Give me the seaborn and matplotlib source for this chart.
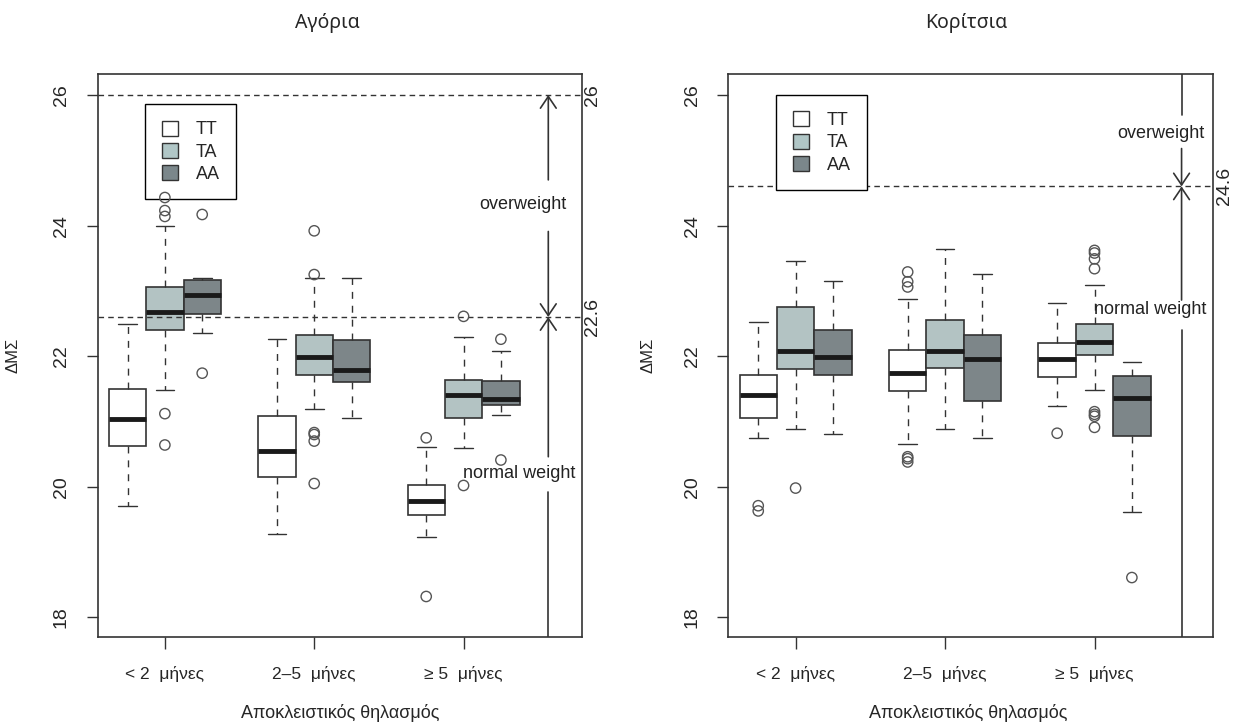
import numpy as np
import pandas as pd
import seaborn as sns
import matplotlib.pyplot as plt
from matplotlib.patches import Patch

genotypes = ["TT", "TA", "AA"]
groups = ["< 2  μήνες", "2–5  μήνες", "≥ 5  μήνες"]
group_pos = [2, 6, 10]
geno_offset = [-1, 0, 1]

# each box: whisker low, Q1, median, Q3, whisker high (one row per group)
boys_tt = [[19.70, 20.63, 21.04, 21.49, 22.49],
           [19.28, 20.15, 20.55, 21.08, 22.27],
           [19.23, 19.57, 19.78, 20.02, 20.61]]
boys_ta = [[21.48, 22.40, 22.68, 23.06, 24.00],
           [21.19, 21.71, 21.99, 22.32, 23.20],
           [20.60, 21.05, 21.40, 21.64, 22.30]]
boys_aa = [[22.35, 22.65, 22.93, 23.17, 23.20],
           [21.05, 21.60, 21.79, 22.25, 23.20],
           [21.10, 21.26, 21.34, 21.62, 22.08]]
boys_tt_out = [[], [], [20.75, 18.32]]
boys_ta_out = [[24.43, 24.23, 24.14, 21.12, 20.64],
               [23.92, 23.25, 20.83, 20.80, 20.70, 20.05],
               [22.61, 20.02]]
boys_aa_out = [[24.17, 21.74], [], [22.26, 20.41]]

girls_tt = [[20.74, 21.05, 21.40, 21.71, 22.52],
            [20.65, 21.46, 21.74, 22.09, 22.88],
            [21.24, 21.68, 21.96, 22.20, 22.82]]
girls_ta = [[20.89, 21.80, 22.08, 22.76, 23.46],
            [20.89, 21.82, 22.08, 22.55, 23.64],
            [21.48, 22.02, 22.21, 22.50, 23.09]]
girls_aa = [[20.81, 21.71, 21.98, 22.40, 23.15],
            [20.74, 21.32, 21.96, 22.33, 23.26],
            [19.61, 20.78, 21.36, 21.69, 21.91]]
girls_tt_out = [[19.71, 19.63], [23.29, 23.14, 23.06, 20.46, 20.43, 20.38], [20.82]]
girls_ta_out = [[19.98], [], [23.62, 23.58, 23.49, 23.34, 21.15, 21.11, 21.08, 20.91]]
girls_aa_out = [[], [], [18.61]]

colors = ["#ffffff", "#b0c6c6", "#7b878b"]
line_col = "#333333"
narrow = ["Liberation Sans Narrow", "Liberation Sans", "DejaVu Sans"]

sns.set_style("ticks")
plt.rcParams["font.family"] = ["Liberation Sans", "DejaVu Sans"]


def long_table(tt, ta, aa):
    rows = []
    for g, stats in enumerate([tt, ta, aa]):
        for i, vals in enumerate(stats):
            for v in vals:
                rows.append((group_pos[i] + geno_offset[g], genotypes[g], v))
    return pd.DataFrame(rows, columns=["pos", "genotype", "bmi"])


def outlier_table(tt, ta, aa):
    rows = []
    for g, outs in enumerate([tt, ta, aa]):
        for i, vals in enumerate(outs):
            for v in vals:
                rows.append((group_pos[i] + geno_offset[g], v))
    return pd.DataFrame(rows, columns=["pos", "bmi"])


def draw_panel(ax, box_df, out_df):
    sns.boxplot(data=box_df, x="pos", y="bmi", hue="genotype", hue_order=genotypes,
                palette=colors, native_scale=True, dodge=False, width=1.0,
                whis=np.inf, showfliers=False, linecolor=line_col, linewidth=1.2,
                medianprops=dict(color="#1a1a1a", linewidth=3.5),
                whiskerprops=dict(linestyle=(0, (5, 5)), color=line_col, linewidth=1),
                capprops=dict(color=line_col, linewidth=1),
                legend=False, ax=ax)
    sns.scatterplot(data=out_df, x="pos", y="bmi", ax=ax, marker="o", s=55,
                    color="#555555", facecolor="none", edgecolor="#555555",
                    linewidth=1, legend=False, zorder=7)
    ax.set_xlim(0.2, 13.18)
    ax.set_ylim(17.695, 26.317)
    ax.set_xticks(group_pos)
    ax.set_xticklabels(groups, fontsize=12.5, family=narrow)
    ax.set_yticks([18, 20, 22, 24, 26])
    ax.set_yticklabels(["18", "20", "22", "24", "26"], rotation=90, va="center", fontsize=14)
    ax.tick_params(axis="x", length=8.5, width=1, color=line_col, pad=12)
    ax.tick_params(axis="y", length=8, width=1, color=line_col, pad=12)
    ax.set_xlabel("")
    ax.set_ylabel("ΔΜΣ", fontsize=12)
    for s in ax.spines.values():
        s.set_visible(True)
        s.set_color(line_col)
        s.set_linewidth(1.2)
    handles = [Patch(facecolor=c, edgecolor=line_col) for c in colors]
    leg = ax.legend(handles, genotypes, loc="upper left", frameon=True, fancybox=False,
                    edgecolor="black", framealpha=1, fontsize=13, handlelength=0.9,
                    handleheight=0.9, handletextpad=1.0, labelspacing=0.25,
                    borderpad=0.9, borderaxespad=0)
    leg.get_frame().set_linewidth(1.0)
    leg.set_zorder(6)
    return leg


def arrow(ax, x, y_from, y_to):
    ax.annotate("", xy=(x, y_to), xytext=(x, y_from),
                arrowprops=dict(arrowstyle="->, head_length=0.4, head_width=0.27",
                                color=line_col, lw=1.2, shrinkA=0, shrinkB=0,
                                mutation_scale=21))


fig = plt.figure(figsize=(12.41, 7.27), dpi=100)
ax1 = fig.add_axes([0.0787, 0.1234, 0.3905, 0.7744])
ax2 = fig.add_axes([0.5869, 0.1234, 0.3908, 0.7744])

# boys
leg1 = draw_panel(ax1, long_table(boys_tt, boys_ta, boys_aa),
                  outlier_table(boys_tt_out, boys_ta_out, boys_aa_out))
leg1.set_bbox_to_anchor((0.0986, 0.9467), transform=ax1.transAxes)
for yv in [26, 22.6]:
    ax1.axhline(yv, color=line_col, lw=1, linestyle=(0, (4, 3)))
vx = 12.27
arrow(ax1, vx, 24.7, 26)
arrow(ax1, vx, 23.91, 22.6)
arrow(ax1, vx, 20.46, 22.6)
ax1.plot([vx, vx], [19.92, 17.695], color=line_col, lw=1.2)
ax1.text(11.59, 24.32, "overweight", ha="center", va="center", fontsize=13, color="#222222")
ax1.text(11.48, 20.20, "normal weight", ha="center", va="center", fontsize=13, color="#222222")
for yv, lab in [(26, "26"), (22.6, "22.6")]:
    ax1.text(1.022, yv, lab, transform=ax1.get_yaxis_transform(), rotation=90,
             ha="center", va="center", fontsize=14)
ax1.yaxis.set_label_coords(-0.160, 0.5)

# girls
leg2 = draw_panel(ax2, long_table(girls_tt, girls_ta, girls_aa),
                  outlier_table(girls_tt_out, girls_ta_out, girls_aa_out))
leg2.set_bbox_to_anchor((0.0988, 0.963), transform=ax2.transAxes)
ax2.axhline(24.6, color=line_col, lw=1, linestyle=(0, (4, 3)))
vx = 12.33
ax2.plot([vx, vx], [26.317, 25.69], color=line_col, lw=1.2)
arrow(ax2, vx, 25.18, 24.6)
arrow(ax2, vx, 22.86, 24.6)
ax2.plot([vx, vx], [22.40, 17.695], color=line_col, lw=1.2)
ax2.text(11.77, 25.41, "overweight", ha="center", va="center", fontsize=13, color="#222222")
ax2.text(11.49, 22.72, "normal weight", ha="center", va="center", fontsize=13, color="#222222")
ax2.text(1.024, 24.6, "24.6", transform=ax2.get_yaxis_transform(), rotation=90,
         ha="center", va="center", fontsize=14)
ax2.yaxis.set_label_coords(-0.150, 0.5)

title_font = ["Noto Sans", "DejaVu Sans"]
fig.text(327 / 1241, 1 - 23 / 727, "Αγόρια", ha="center", va="center", fontsize=14, family=title_font)
fig.text(966 / 1241, 1 - 23 / 727, "Κορίτσια", ha="center", va="center", fontsize=14, family=title_font)
fig.text(340 / 1241, 1 - 713 / 727, "Αποκλειστικός θηλασμός", ha="center", va="center",
         fontsize=13, family=narrow)
fig.text(968 / 1241, 1 - 713 / 727, "Αποκλειστικός θηλασμός", ha="center", va="center",
         fontsize=13, family=narrow)

fig.savefig("out.png", dpi=100)
